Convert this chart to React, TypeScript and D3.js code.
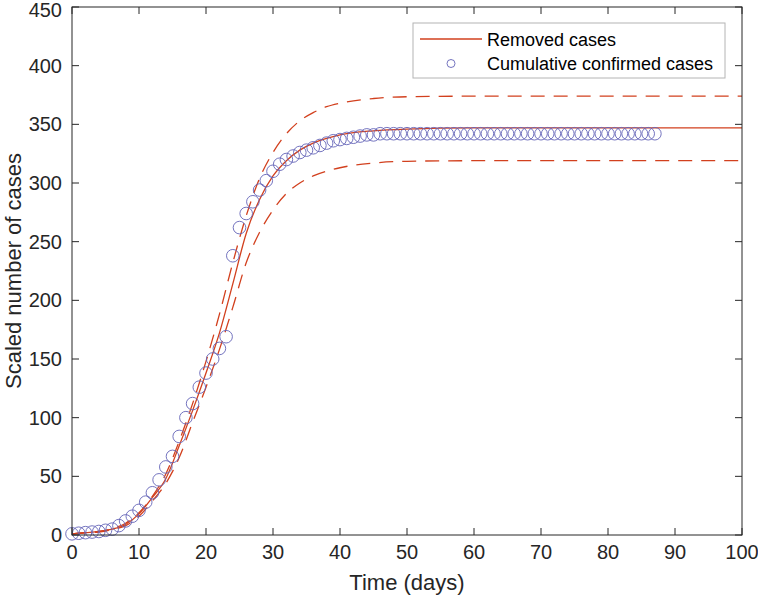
import React from "react";
import * as d3 from "d3";

// Observed cumulative confirmed cases (one per day, 0..87)
const caseDays: number[] = Array.from({ length: 88 }, (_, i) => i);
const caseValues: number[] = [
  1, 1.5, 2, 2.5, 3, 4, 5, 8, 12, 16,
  21, 28, 36, 47, 58, 67, 84, 100, 112, 126,
  138, 150, 159, 169, 238, 262, 274, 284, 294, 302,
  310, 316, 320, 323, 326, 328, 330, 332, 334, 336,
  337, 338, 339, 340, 341, 341, 342, 342, 342, 342,
  342, 342, 342, 342, 342, 342, 342, 342, 342, 342,
  342, 342, 342, 342, 342, 342, 342, 342, 342, 342,
  342, 342, 342, 342, 342, 342, 342, 342, 342, 342,
  342, 342, 342, 342, 342, 342, 342, 342,
];

// Model curves (removed cases and its bounds)
const curveDays: number[] = [0, 2, 4, 6, 8, 10, 12, 14, 16, 18, 20, 22, 24, 26, 28, 30, 32, 34, 36, 38, 40, 45, 50, 60, 70, 80, 90, 100];
const removedValues: number[] = [1, 2, 3, 5, 9, 18, 32, 48, 76, 106, 138, 172, 214, 257, 286, 306, 319, 328, 334, 338, 341, 344.5, 346, 347, 347, 347, 347, 347];
const upperValues: number[] = [1, 2, 3, 5.5, 10, 19, 33, 52, 80, 112, 148, 188, 232, 272, 304, 326, 342, 353, 360, 365, 368, 372, 373.5, 374, 374, 374, 374, 374];
const lowerValues: number[] = [1, 1.8, 2.5, 4.5, 8, 16, 29, 44, 66, 96, 126, 158, 194, 232, 258, 277, 291, 300, 306, 310, 313, 317, 318.5, 319, 319, 319, 319, 319];

const xTicks: number[] = [0, 10, 20, 30, 40, 50, 60, 70, 80, 90, 100];
const yTicks: number[] = [0, 50, 100, 150, 200, 250, 300, 350, 400, 450];

const legendLabels: string[] = ["Removed cases", "Cumulative confirmed cases"];

export default function App() {
  const W = 758, H = 599;
  const left = 72, right = 742, top = 7, bottom = 535;
  const x = d3.scaleLinear().domain([0, 100]).range([left, right]);
  const y = d3.scaleLinear().domain([0, 450]).range([bottom, top]);
  const red = "#D2401E";
  const blue = "#6464B8";
  const axisColor = "#262626";
  const font = "'Liberation Sans', Arial, Helvetica, sans-serif";

  const mk = (vals: number[]) =>
    d3.line<number>()
      .x((_, i) => x(curveDays[i]))
      .y((v) => y(v))
      .curve(d3.curveMonotoneX)(vals) || "";

  const tickLen = 7;

  return (
    <svg width={W} height={H} style={{ position: "absolute", left: 0, top: 0, background: "#fff" }} fontFamily={font}>
      <rect x={0} y={0} width={W} height={H} fill="#fff" />
      <defs>
        <clipPath id="plotclip">
          <rect x={left} y={top} width={right - left} height={bottom - top} />
        </clipPath>
      </defs>
      {/* curves */}
      <g clipPath="url(#plotclip)">
        <path d={mk(upperValues)} fill="none" stroke={red} strokeWidth={1.3} strokeDasharray="14,9" />
        <path d={mk(lowerValues)} fill="none" stroke={red} strokeWidth={1.3} strokeDasharray="14,9" />
        <path d={mk(removedValues)} fill="none" stroke={red} strokeWidth={1.3} />
      </g>
      {/* circles */}
      <g>
        {caseValues.map((v, i) => (
          <circle key={i} cx={x(caseDays[i])} cy={y(v)} r={6.3} fill="none" stroke={blue} strokeWidth={0.9} />
        ))}
      </g>
      {/* box */}
      <rect x={left} y={top} width={right - left} height={bottom - top} fill="none" stroke={axisColor} strokeWidth={1} />
      {/* ticks */}
      {xTicks.map((t) => (
        <g key={"x" + t}>
          <line x1={x(t)} x2={x(t)} y1={bottom} y2={bottom - tickLen} stroke={axisColor} />
          <line x1={x(t)} x2={x(t)} y1={top} y2={top + tickLen} stroke={axisColor} />
          <text x={x(t)} y={559} textAnchor="middle" fontSize={20} fill={axisColor}>{t}</text>
        </g>
      ))}
      {yTicks.map((t) => (
        <g key={"y" + t}>
          <line x1={left} x2={left + tickLen} y1={y(t)} y2={y(t)} stroke={axisColor} />
          <line x1={right} x2={right - tickLen} y1={y(t)} y2={y(t)} stroke={axisColor} />
          <text x={62} y={Math.max(y(t), 10)} dy="0.35em" textAnchor="end" fontSize={20} fill={axisColor}>{t}</text>
        </g>
      ))}
      <text x={(left + right) / 2} y={590} textAnchor="middle" fontSize={22} fill={axisColor}>Time (days)</text>
      <text transform={`translate(21,${(top + bottom) / 2}) rotate(-90)`} textAnchor="middle" fontSize={22} fill={axisColor}>Scaled number of cases</text>
      {/* legend */}
      <rect x={413} y={23} width={312} height={55} fill="#fff" stroke="#b4b4b4" strokeWidth={1} />
      <line x1={420} x2={482} y1={39} y2={39} stroke={red} strokeWidth={1.3} />
      <text x={487} y={46} fontSize={18} fill="#000">{legendLabels[0]}</text>
      <circle cx={451} cy={63.5} r={4} fill="none" stroke={blue} strokeWidth={0.9} />
      <text x={487} y={70} fontSize={18} fill="#000">{legendLabels[1]}</text>
    </svg>
  );
}
